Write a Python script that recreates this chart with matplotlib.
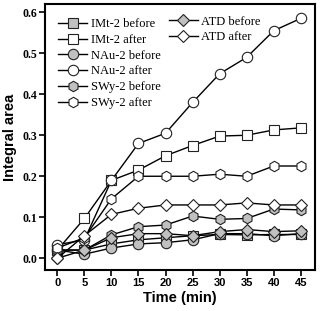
import matplotlib
matplotlib.use("Agg")
import matplotlib.pyplot as plt

time_min = [0, 5, 10, 15, 20, 25, 30, 35, 40, 45]

imt_before = [0.020, 0.020, 0.035, 0.045, 0.050, 0.055, 0.058, 0.057, 0.058, 0.058]
imt_after = [0.020, 0.097, 0.190, 0.215, 0.250, 0.275, 0.298, 0.300, 0.313, 0.318]
nau_before = [0.020, 0.010, 0.025, 0.035, 0.038, 0.045, 0.060, 0.060, 0.055, 0.060]
nau_after = [0.033, 0.045, 0.190, 0.280, 0.305, 0.380, 0.450, 0.490, 0.555, 0.585]
swy_before = [0.020, 0.020, 0.057, 0.077, 0.081, 0.103, 0.095, 0.097, 0.120, 0.118]
swy_after = [0.025, 0.050, 0.145, 0.200, 0.200, 0.200, 0.205, 0.200, 0.225, 0.225]
atd_before = [0.000, 0.020, 0.050, 0.060, 0.060, 0.055, 0.065, 0.070, 0.065, 0.067]
atd_after = [0.000, 0.055, 0.107, 0.122, 0.130, 0.130, 0.130, 0.135, 0.130, 0.130]

gray = '#c0c0c0'
fig, ax = plt.subplots(figsize=(3.2, 3.11), dpi=100)
fig.subplots_adjust(left=0.142, right=0.984, top=0.987, bottom=0.132)

kw = dict(color='black', lw=1.0, mec='#222222', mew=0.8)
series = [
    (imt_before, 's', gray, 'IMt-2 before'),
    (imt_after, 's', 'white', 'IMt-2 after'),
    (nau_before, 'o', gray, 'NAu-2 before'),
    (nau_after, 'o', 'white', 'NAu-2 after'),
    (swy_before, 'h', gray, 'SWy-2 before'),
    (swy_after, 'h', 'white', 'SWy-2 after'),
    (atd_before, 'D', gray, 'ATD before'),
    (atd_after, 'D', 'white', 'ATD after'),
]
handles = []
for vals, m, fc, lab in series:
    ms = 6.5 if m == 'D' else 7.5
    h, = ax.plot(time_min, vals, marker=m, mfc=fc, ms=ms, label=lab, **kw)
    handles.append(h)

ax.set_xlim(-2.2, 47.6)
ax.set_ylim(-0.0285, 0.62)
ax.set_xticks(time_min)
ax.set_yticks([0.0, 0.1, 0.2, 0.3, 0.4, 0.5, 0.6])
ax.set_yticklabels(['0.0', '0.1', '0.2', '0.3', '0.4', '0.5', '0.6'],
                   fontfamily='Liberation Serif', fontweight='bold', fontsize=8.5)
for t in ax.get_xticklabels():
    t.set_fontfamily('Liberation Sans')
    t.set_fontweight('bold')
    t.set_fontsize(8)
ax.tick_params(direction='out', length=4, width=1.2, pad=2)
for s in ax.spines.values():
    s.set_linewidth(1.5)

ax.set_xlabel('Time (min)', fontfamily='Liberation Sans', fontweight='bold',
              fontsize=10.5, labelpad=2)
ax.set_ylabel('Integral area', fontfamily='Liberation Sans', fontweight='bold',
              fontsize=10.5, labelpad=4)

lprops = dict(family='Liberation Serif', size=9)
leg1 = ax.legend(handles=handles[:6], loc='upper left', bbox_to_anchor=(0.02, 0.975),
                 frameon=False, prop=lprops, handlelength=2.3, labelspacing=0.3,
                 handletextpad=0.3, borderaxespad=0.2)
ax.add_artist(leg1)
ax.legend(handles=handles[6:], loc='upper left', bbox_to_anchor=(0.43, 0.985),
          frameon=False, prop=lprops, handlelength=2.3, labelspacing=0.3,
          handletextpad=0.3, borderaxespad=0.2)

fig.savefig('out.png', dpi=100)
